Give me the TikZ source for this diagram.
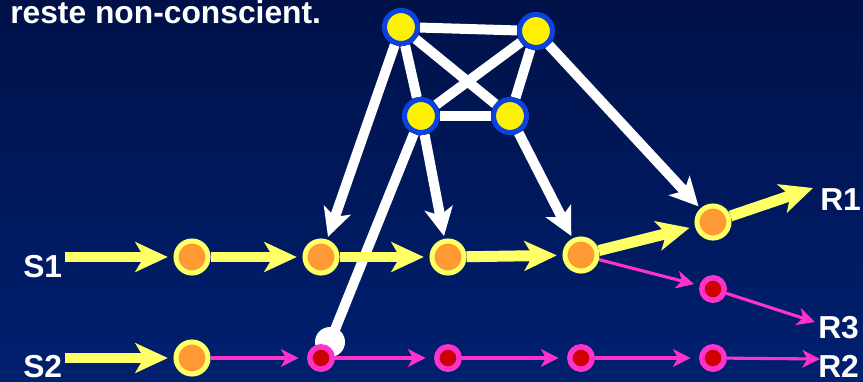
\documentclass[tikz,border=0pt]{standalone}
\usepackage{fontspec}
\setmainfont{Liberation Sans}
\usetikzlibrary{arrows.meta}

\pgfdeclarelayer{bg}
\pgfdeclarelayer{back}
\pgfdeclarelayer{mid}
\pgfsetlayers{bg,back,mid,main}

\definecolor{navytop}{RGB}{0,17,72}
\definecolor{navybot}{RGB}{0,32,112}
\definecolor{ringblue}{RGB}{12,66,224}
\definecolor{lightyellow}{RGB}{255,255,102}
\definecolor{orangefill}{RGB}{255,153,51}
\definecolor{pinkline}{RGB}{255,51,204}
\definecolor{redfill}{RGB}{204,0,0}

\tikzset{
  top node/.style={circle, fill=yellow, draw=ringblue, line width=3.6pt,
    minimum size=0.825cm, inner sep=0pt},
  orange node/.style={circle, fill=orangefill, draw=lightyellow, line width=3.6pt,
    minimum size=0.8cm, inner sep=0pt},
  red node/.style={circle, fill=redfill, draw=pinkline, line width=3.9pt,
    minimum size=0.56cm, inner sep=0pt},
  lbl/.style={text=white, inner sep=0pt, anchor=base west,
    font=\fontsize{22.6}{27}\selectfont\bfseries},
  wline/.style={white, line width=7.1pt},
  warrow/.style={wline, -{Stealth[length=20pt, width=20pt, inset=5pt]}, shorten >=2pt},
  yarrow/.style={lightyellow, line width=7.8pt,
    -{Stealth[length=23pt, width=21pt, inset=6pt]}, shorten >=4pt},
  parrow/.style={pinkline, line width=2.2pt,
    -{Stealth[length=12.5pt, width=12.5pt, inset=3.5pt]}, shorten >=6pt}
}

\begin{document}
\begin{tikzpicture}[x=0.025cm, y=-0.025cm]

    \useasboundingbox (0,0) rectangle (863,382);

    % Background
    \begin{pgfonlayer}{bg}
        \shade[top color=navytop, bottom color=navybot] (0,0) rectangle (863,382);
    \end{pgfonlayer}

    \node[lbl] (caption) at (10,23) {reste non-conscient.};

    % Top network
    \node[top node] (a) at (401,27) {};
    \node[top node] (b) at (536,31) {};
    \node[top node] (c) at (421,116) {};
    \node[top node] (d) at (510,116) {};

    % S1 chain
    \node[orange node] (u1) at (192,257) {};
    \node[orange node] (u2) at (321,257) {};
    \node[orange node] (u3) at (448,257) {};
    \node[orange node] (u4) at (581,255) {};
    \node[orange node] (u5) at (713,222) {};

    % S2 chain
    \node[orange node] (v1) at (192,358) {};
    \node[red node] (v2) at (321,358) {};
    \node[red node] (v3) at (448,358) {};
    \node[red node] (v4) at (581,358) {};
    \node[red node] (v5) at (713,358) {};

    % Branch to R3
    \node[red node] (w) at (713,289) {};

    % Inputs and outputs
    \node[lbl] (S1) at (23,277) {S1};
    \node[lbl] (S2) at (23,377) {S2};
    \node[lbl] (R1) at (820,210) {R1};
    \node[lbl] (R3) at (818,338) {R3};
    \node[lbl] (R2) at (818,377) {R2};

    \coordinate (s1in) at (65,257);
    \coordinate (s2in) at (65,358);
    \coordinate (r1end) at (813,188);
    \coordinate (r3end) at (815,322);
    \coordinate (r2end) at (820,359);
    \coordinate (blob) at (330,342);

    % White links
    \begin{pgfonlayer}{back}
        \draw[wline] (a) -- (b);
        \draw[wline] (c) -- (d);
        \draw[wline] (a) -- (d);
        \draw[wline] (b) -- (c);
        \draw[wline] (a) -- (c);
        \draw[wline] (b) -- (d);

        \draw[warrow] (a) -- (u2);
        \draw[warrow] (c) -- (u3);
        \draw[warrow] (d) -- (u4);
        \draw[warrow] (b) -- (u5);

        % link ending on the S2 chain
        \draw[wline] (c) -- (blob);
        \fill[white] (blob) circle (0.375cm);
    \end{pgfonlayer}

    \begin{pgfonlayer}{mid}
        % Yellow path
        \draw[yarrow] (s1in) -- (u1);
        \draw[yarrow] (u1) -- (u2);
        \draw[yarrow] (u2) -- (u3);
        \draw[yarrow] (u3) -- (u4);
        \draw[yarrow] (u4) -- (u5);
        \draw[yarrow, shorten >=0pt] (u5) -- (r1end);
        \draw[yarrow] (s2in) -- (v1);

        % Pink path
        \draw[parrow] (v1) -- (v2);
        \draw[parrow] (v2) -- (v3);
        \draw[parrow] (v3) -- (v4);
        \draw[parrow] (v4) -- (v5);
        \draw[parrow, shorten >=0pt] (v5) -- (r2end);
        \draw[parrow, shorten >=4pt] (u4) -- (w);
        \draw[parrow, shorten >=0pt] (w) -- (r3end);
    \end{pgfonlayer}

\end{tikzpicture}
\end{document}
